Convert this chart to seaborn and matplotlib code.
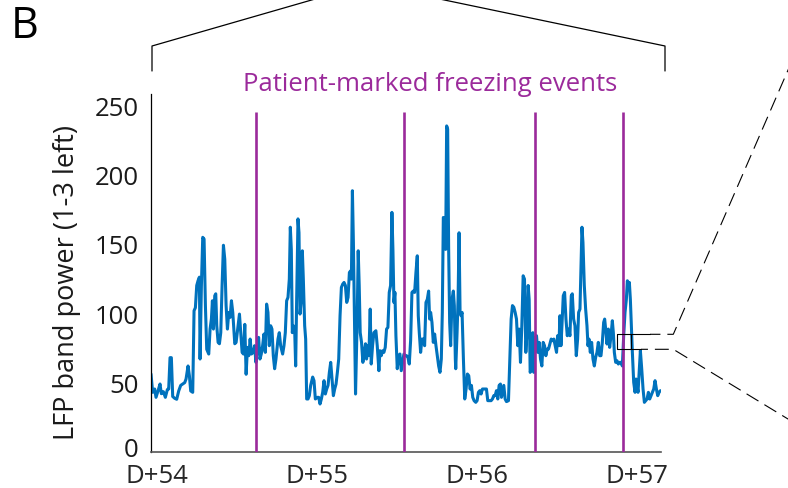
import matplotlib
matplotlib.use("Agg")
import matplotlib.pyplot as plt
from matplotlib.lines import Line2D
import matplotlib.transforms as mtransforms
import seaborn as sns
import pandas as pd

# ---------------- data (hours since start of D+54) ----------------
hours = [
    -0.85, -0.6, -0.3, -0.1, 0.2, 0.5, 0.7, 1.0, 1.3, 1.6, 1.8, 2.0, 2.2, 2.4, 2.7, 3.0, 3.3, 3.6, 3.9, 4.2,
    4.4, 4.7, 4.9, 5.1, 5.4, 5.6, 5.8, 6.0, 6.2, 6.4, 6.5, 6.7, 6.9, 7.1, 7.3, 7.5, 7.8, 8.0, 8.2, 8.35,
    8.5, 8.7, 8.85, 9.0, 9.2, 9.4, 9.6, 9.8, 10.0, 10.2, 10.4, 10.6, 10.8, 11.0, 11.2, 11.4, 11.7, 11.9, 12.1, 12.4,
    12.6, 12.8, 13.0, 13.2, 13.4, 13.6, 13.8, 14.0, 14.2,
    14.47, 14.67, 14.87, 15.07, 15.27, 15.47, 15.67, 15.87, 16.07, 16.27, 16.47, 16.67, 16.87, 17.07, 17.27, 17.47,
    17.67, 17.87, 18.17, 18.37, 18.57, 18.87, 19.07, 19.27, 19.47, 19.67, 19.87, 20.02, 20.17, 20.32, 20.47, 20.67,
    20.82, 20.97, 21.17, 21.32, 21.47, 21.67, 21.82, 21.97, 22.17, 22.32, 22.47, 22.67, 22.87, 23.07, 23.37, 23.57,
    23.77, 24.07, 24.27, 24.47, 24.67, 24.87, 25.07, 25.27, 25.47, 25.67, 25.87, 26.07, 26.27, 26.47, 26.67, 26.87,
    27.07, 27.27, 27.47, 27.67, 27.87, 28.07, 28.27, 28.47, 28.67, 28.87, 29.07, 29.17, 29.32, 29.47,
    29.79, 30.04, 30.19, 30.34, 30.49, 30.69, 30.89, 31.09, 31.29, 31.44, 31.64, 31.79, 31.99, 32.14, 32.34, 32.54,
    32.84, 33.04, 33.29, 33.44, 33.64, 33.84, 34.04, 34.24, 34.44, 34.64, 34.84, 35.04, 35.24, 35.39, 35.54, 35.69,
    35.84, 36.04, 36.24, 36.44, 36.64, 36.84, 37.04, 37.24, 37.44, 37.64, 37.84, 38.04, 38.24, 38.44, 38.64, 38.84,
    39.04, 39.19, 39.34, 39.54, 39.74, 39.94, 40.14, 40.34, 40.54, 40.74, 40.89, 41.04, 41.24, 41.44, 41.64, 41.84,
    42.04, 42.24, 42.44, 42.64, 42.79, 42.94, 43.14, 43.29, 43.44, 43.59, 43.74, 43.89, 44.04, 44.24, 44.44, 44.59,
    44.74,
    44.8, 45.0, 45.15, 45.3, 45.45, 45.6, 45.75, 45.95, 46.15, 46.35, 46.55, 46.75, 46.95, 47.15, 47.35, 47.55,
    47.8, 48.0, 48.2, 48.4, 48.6, 48.8, 49.1, 49.4, 49.6, 49.8, 50.1, 50.3, 50.5, 50.7, 50.9, 51.1,
    51.3, 51.5, 51.65, 51.8, 52.0, 52.2, 52.4, 52.7, 52.9, 53.1, 53.3, 53.5, 53.7, 53.9, 54.1, 54.3,
    54.5, 54.7, 54.9, 55.1, 55.3, 55.5, 55.65, 55.8, 55.95, 56.15, 56.35, 56.5, 56.7, 56.9, 57.1, 57.3,
    57.5, 57.7, 57.9, 58.1, 58.3, 58.5, 58.7, 58.9, 59.1, 59.3, 59.5, 59.7, 59.9,
    60.06, 60.26, 60.41, 60.56, 60.71, 60.91, 61.11, 61.31, 61.51, 61.71, 61.91, 62.11, 62.26, 62.46, 62.66, 62.86,
    63.06, 63.21, 63.41, 63.56, 63.71, 63.86, 64.06, 64.26, 64.46, 64.61, 64.76, 64.96, 65.16, 65.36, 65.56, 65.76,
    65.96, 66.16, 66.36, 66.56, 66.76, 66.96, 67.11, 67.26, 67.46, 67.66, 67.86, 68.06, 68.26, 68.41, 68.56, 68.76,
    68.96, 69.16, 69.36, 69.56, 69.76, 69.96, 70.16, 70.36, 70.51, 70.66, 70.81, 70.96, 71.11, 71.26, 71.46, 71.66,
    71.81, 71.96, 72.11, 72.31, 72.46, 72.66, 72.86, 73.06, 73.26, 73.46, 73.66, 73.86, 74.06, 74.26, 74.46, 74.66,
    74.86, 75.06, 75.26, 75.46,
]
power = [
    56.2, 43, 45.4, 39.4, 44, 49, 42, 43.5, 39.4, 45, 45.4, 68, 68, 40, 38.7, 38, 44, 48, 49, 50,
    52.6, 62, 55, 44, 43, 101.8, 104, 120, 123.5, 126, 67, 120, 154.7, 153.5, 105.5, 74, 70.6, 88.6, 96, 109,
    88.6, 112.6, 114, 91, 79, 78, 86, 120, 149, 139, 105.5, 88.6, 100.6, 97, 109, 100.6, 78, 79, 87.4, 99.4,
    86, 71.8, 70.6, 92, 56, 75.4, 69.4, 81.4, 70.6,
    71.8, 76.6, 64.6, 75.4, 82.6, 67, 70.6, 76.6, 85, 71.8, 106.6, 100.6, 76.6, 91, 88.6, 69.4,
    60, 67, 81.4, 86, 76.6, 70.6, 76.6, 86, 109, 111.4, 124.6, 162, 146, 86, 91, 88.6,
    62, 110, 168, 158, 99.4, 110, 145, 124.6, 91, 81.4, 38.2, 38.2, 40.6, 48, 54, 51.4,
    38.2, 39.4, 39.4, 34.6, 38.2, 43, 51.4, 41.8, 45.4, 48, 57.4, 64.6, 52.6, 40.6, 45.4, 49,
    57.4, 67, 98.2, 118.6, 121, 122.2, 120, 107.8, 111.4, 129.4, 130.6, 124.6, 188.3, 151,
    41.8, 95.8, 145, 120, 86, 79, 64.6, 71.8, 78, 67, 76.6, 69.4, 103, 63.4, 76.6, 86,
    87.4, 76.6, 58.6, 73, 69.4, 73, 71.8, 75.4, 88.6, 89.8, 115, 120, 172.7, 146, 107.8, 115,
    83.8, 60, 69.4, 70.6, 58.6, 64.6, 70.6, 69.4, 69.4, 68.2, 63.4, 80.2, 115, 116, 115, 129.4,
    141.4, 98.2, 86, 71.8, 81.4, 81.4, 76.6, 107.8, 110, 116, 95.8, 100.6, 93.4, 79, 85, 76.6,
    69.4, 62, 57.4, 67, 100.6, 169, 168, 146, 235, 232.7, 146, 93.4, 76.6, 110, 116, 105.5,
    67,
    60, 86, 110, 158, 100.6, 98.2, 100.6, 67, 38.2, 45.4, 56.2, 55, 45.4, 48, 39.4, 37,
    35.8, 37, 43, 44.2, 41.8, 45.4, 45.4, 45.4, 37, 37, 37, 38.2, 40.6, 40.6, 44.2, 38.2,
    48, 49, 39.4, 43, 48, 38.2, 36.3, 37, 67, 95.8, 105.5, 104.3, 100.6, 95.8, 76.6, 88.6,
    64.6, 91, 127, 124.6, 71.8, 88.6, 120, 110, 57.4, 60, 86, 57.4, 81.4, 83.8, 71.8, 79,
    67, 62, 79, 76.6, 69.4, 74.2, 74.2, 77.8, 81.4, 80.2, 81.4, 76.6, 71.8,
    83.8, 76.6, 98.2, 76.6, 91, 112.6, 115, 95.8, 83.8, 88.6, 83.8, 112.6, 114, 95.8, 91, 69.4,
    81.4, 100.6, 103, 134, 162, 151, 120, 103, 91, 76.6, 81.4, 71.8, 79, 67, 62, 68.2,
    71.8, 79, 69.4, 69.4, 79, 93.4, 95.8, 88.6, 77.8, 88.6, 75.4, 83.8, 94.6, 86, 71.8, 64.6,
    65.8, 63.4, 64.6, 64.6, 62, 83.8, 100.6, 110, 123.4, 120, 122.2, 110, 91, 71.8, 50.2, 43,
    52.6, 48, 43, 60, 73, 60, 45.4, 35.8, 37, 38.2, 43, 38.2, 40.6, 43, 45.4, 51.4,
    45.4, 40.6, 43, 44.2,
]
event_hours = [14.92, 37.02, 56.67, 69.89]
x_ticks = [0, 24, 48, 72]
x_tick_labels = ["D+54", "D+55", "D+56", "D+57"]
y_ticks = [0, 50, 100, 150, 200, 250]

# ---------------- style ----------------
sns.set_style("white")
plt.rcParams["font.family"] = ["Open Sans", "DejaVu Sans"]
plt.rcParams["lines.scale_dashes"] = False

W, H = 788, 489
BLUE = "#0072BD"
PURPLE = "#9B2A9B"

fig = plt.figure(figsize=(W / 100, H / 100), dpi=100)
ax = fig.add_axes([151 / W, (H - 453) / H, 510 / W, 358 / H])

df = pd.DataFrame({"hours": hours, "power": power})
sns.lineplot(data=df, x="hours", y="power", ax=ax, color=BLUE, lw=2.2,
             estimator=None, sort=False, zorder=2)
ax.vlines(event_hours, 0, 245, color=PURPLE, lw=1.9, zorder=3)

ax.set_xlim(-0.85, 75.55)
ax.set_ylim(0, 258)
ax.set_xticks(x_ticks)
ax.set_xticklabels(x_tick_labels)
ax.set_yticks(y_ticks)
ax.set_xlabel("")
ax.set_ylabel("LFP band power (1-3 left)", fontsize=19.5, color="#1a1a1a")
ax.yaxis.set_label_coords(-0.137, 0.475)

for s in ["top", "right"]:
    ax.spines[s].set_visible(False)
ax.spines["left"].set_color("black")
ax.spines["left"].set_linewidth(0.9)
ax.spines["bottom"].set_color("#555555")
ax.spines["bottom"].set_linewidth(1.2)
ax.tick_params(axis="both", direction="in", length=4, width=0.9,
               labelsize=18.5, labelcolor="#262626")
ax.tick_params(axis="y", pad=9, colors="black", labelcolor="#1a1a1a")
ax.tick_params(axis="x", pad=8, color="#555555")
ax.patch.set_alpha(0)

# nudge the "0" label slightly up so it does not touch "D+54"
zero_lbl = ax.get_yticklabels()[0]
zero_lbl.set_transform(zero_lbl.get_transform() +
                       mtransforms.ScaledTranslation(0, 4 / 72, fig.dpi_scale_trans))

fig.text(430 / W, 1 - 85 / H, "Patient-marked freezing events", color=PURPLE,
         ha="center", va="center", fontsize=18.5)
fig.text(11 / W, 1 - 27 / H, "B", ha="left", va="center", fontsize=31, color="black")


def px(pts):
    xs = [p[0] / W for p in pts]
    ys = [1 - p[1] / H for p in pts]
    return xs, ys


def fline(pts, **kw):
    xs, ys = px(pts)
    fig.add_artist(Line2D(xs, ys, transform=fig.transFigure, color="black", **kw))


# bracket above the panel
fline([(152, 72), (152, 47), (322, -2)], lw=0.9)
fline([(430, -2), (665, 47), (665, 72)], lw=0.9)

# zoom rectangle and connector lines
fline([(617.3, 335.3), (630.7, 335.3), (630.7, 350.3), (617.3, 350.3), (617.3, 335.3)], lw=0.8)
fline([(630.7, 335.3), (650, 335.3)], lw=0.8)
fline([(630.7, 350.3), (641, 350.3)], lw=0.8)
fline([(650, 335.3), (673.3, 335.3), (795, 55)], lw=0.8, linestyle=(2.5, (10, 5)))
fline([(641, 350.3), (673.3, 350.3), (800, 427.3)], lw=0.8, linestyle=(5, (10, 5)))

fig.savefig("out.png", dpi=100)
